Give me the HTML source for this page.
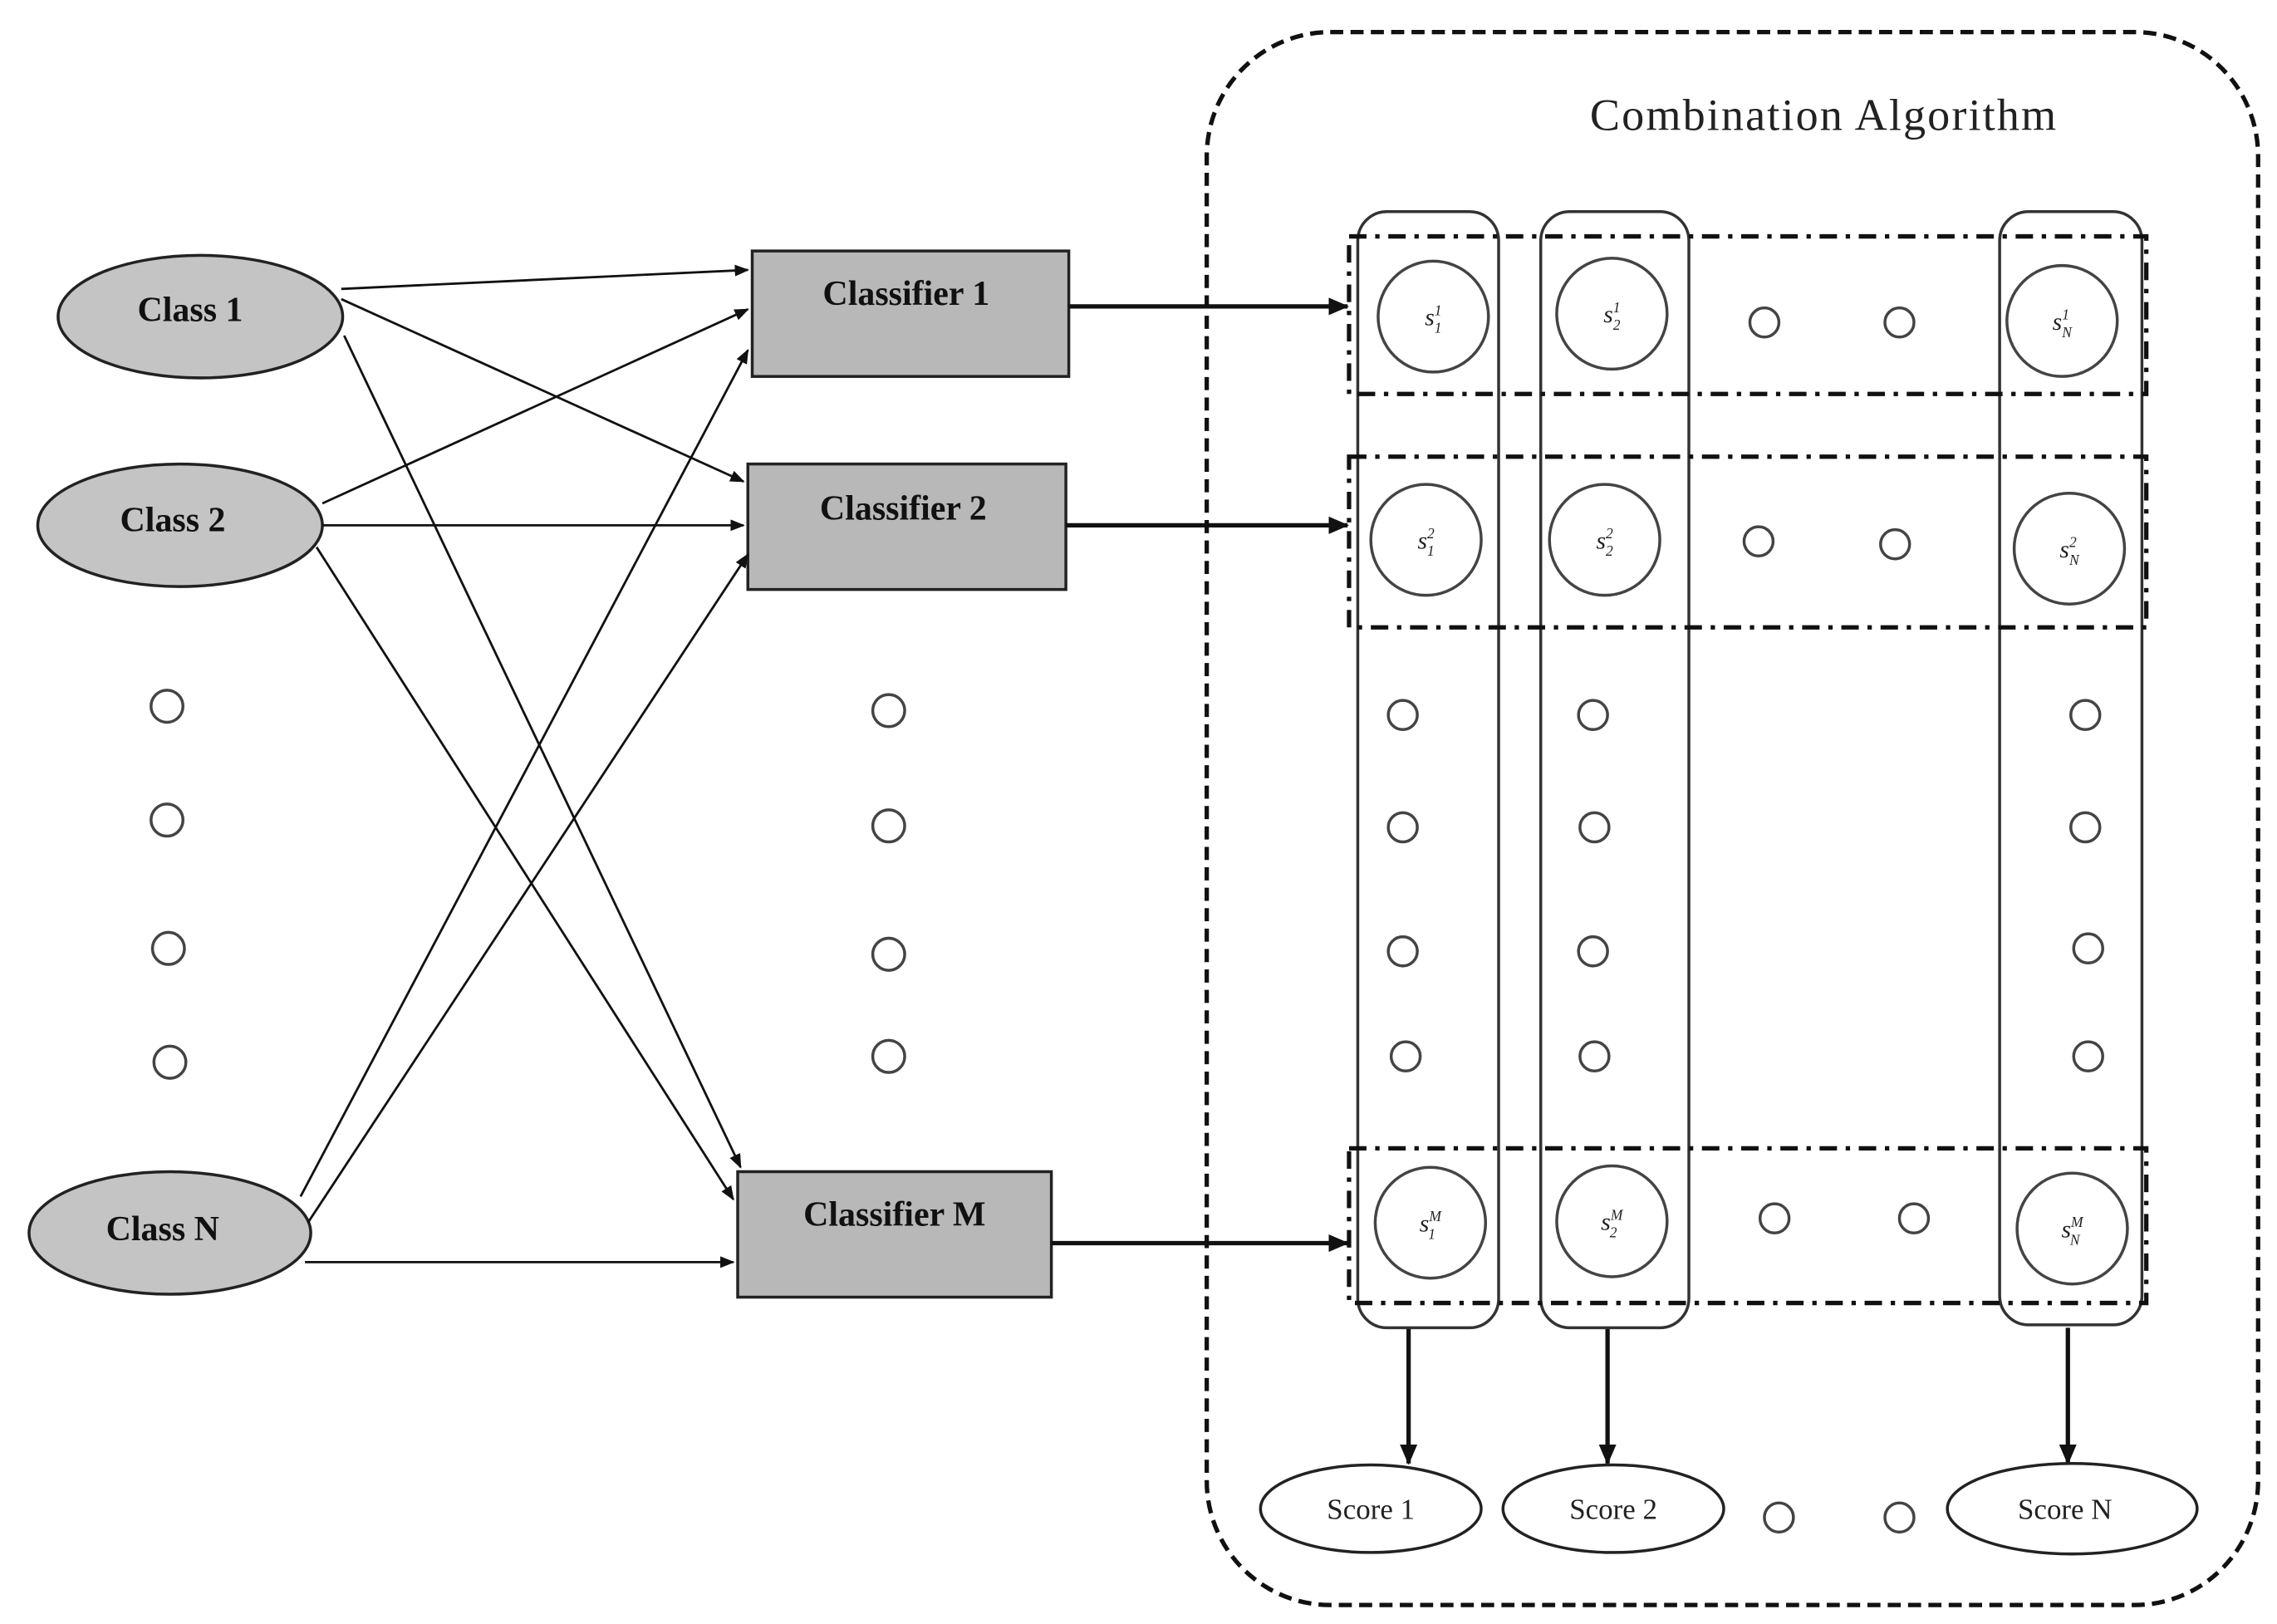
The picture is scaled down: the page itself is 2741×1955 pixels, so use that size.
<!DOCTYPE html>
<html><head><style>html,body{margin:0;padding:0;background:#fff}svg{display:block}</style></head>
<body>
<svg width="2741" height="1955" viewBox="0 0 1568 1113" preserveAspectRatio="none" xmlns="http://www.w3.org/2000/svg" font-family="Liberation Serif, serif">
<defs>
<marker id="a" markerWidth="10" markerHeight="8" refX="9" refY="4" orient="auto" markerUnits="userSpaceOnUse"><path d="M0,0 L10,4 L0,8 Z" fill="#111"/></marker>
<marker id="b" markerWidth="14" markerHeight="12" refX="13" refY="6" orient="auto" markerUnits="userSpaceOnUse"><path d="M0,0 L14,6 L0,12 Z" fill="#111"/></marker>
</defs>
<rect x="831" y="22" width="724" height="1078" rx="85" fill="none" stroke="#111" stroke-width="3" stroke-dasharray="9,5"/>
<text x="1256" y="89" font-size="31" letter-spacing="1.2" text-anchor="middle" fill="#222">Combination Algorithm</text>
<g stroke="#222" stroke-width="2" fill="#c4c4c4">
<ellipse cx="138" cy="217" rx="98" ry="42"/>
<ellipse cx="124" cy="360" rx="98" ry="42"/>
<ellipse cx="117" cy="845" rx="97" ry="42"/>
</g>
<g font-weight="bold" font-size="24" text-anchor="middle" fill="#111">
<text x="131" y="220">Class 1</text>
<text x="119" y="364">Class 2</text>
<text x="112" y="850">Class N</text>
</g>
<g stroke="#222" stroke-width="2" fill="#b8b8b8">
<rect x="518" y="172" width="218" height="86"/>
<rect x="515" y="318" width="219" height="86"/>
<rect x="508" y="803" width="216" height="86"/>
</g>
<g font-weight="bold" font-size="24" text-anchor="middle" fill="#111">
<text x="624" y="209">Classifier 1</text>
<text x="622" y="356">Classifier 2</text>
<text x="616" y="840">Classifier M</text>
</g>
<g stroke="#111" stroke-width="1.6" fill="none" marker-end="url(#a)">
<line x1="235" y1="198" x2="515" y2="185"/>
<line x1="235" y1="205" x2="512" y2="330"/>
<line x1="237" y1="230" x2="510" y2="800"/>
<line x1="222" y1="345" x2="515" y2="212"/>
<line x1="222" y1="360" x2="512" y2="360"/>
<line x1="218" y1="375" x2="505" y2="822"/>
<line x1="207" y1="820" x2="515" y2="240"/>
<line x1="212" y1="838" x2="515" y2="380"/>
<line x1="210" y1="865" x2="505" y2="865"/>
</g>
<g stroke="#111" stroke-width="3" marker-end="url(#b)">
<line x1="736" y1="210" x2="928" y2="210"/>
<line x1="734" y1="360" x2="928" y2="360"/>
<line x1="724" y1="852" x2="928" y2="852"/>
<line x1="970" y1="910" x2="970" y2="1003"/>
<line x1="1107" y1="910" x2="1107" y2="1003"/>
<line x1="1424" y1="910" x2="1424" y2="1003"/>
</g>
<g fill="none" stroke="#333" stroke-width="2">
<rect x="935" y="145" width="97" height="765" rx="20"/>
<rect x="1061" y="145" width="102" height="765" rx="20"/>
<rect x="1377" y="145" width="98" height="763" rx="20"/>
</g>
<g fill="none" stroke="#111" stroke-width="3" stroke-dasharray="12,6,3,6">
<rect x="929" y="162" width="549" height="108"/>
<rect x="929" y="313" width="549" height="117"/>
<rect x="929" y="787" width="549" height="106"/>
</g>
<g fill="#fff" stroke="#444" stroke-width="2">
<circle cx="987" cy="217" r="38"/><circle cx="1110" cy="215" r="38"/><circle cx="1420" cy="220" r="38"/>
<circle cx="982" cy="370" r="38"/><circle cx="1105" cy="370" r="38"/><circle cx="1425" cy="376" r="38"/>
<circle cx="985" cy="838" r="38"/><circle cx="1110" cy="837" r="38"/><circle cx="1427" cy="842" r="38"/>
</g>
<g font-style="italic" font-size="17" fill="#222" text-anchor="middle">
<text x="987" y="223">s<tspan font-size="10" dy="-7">1</tspan><tspan font-size="10" dx="-5" dy="12">1</tspan></text>
<text x="1110" y="221">s<tspan font-size="10" dy="-7">1</tspan><tspan font-size="10" dx="-5" dy="12">2</tspan></text>
<text x="1420" y="226">s<tspan font-size="10" dy="-7">1</tspan><tspan font-size="10" dx="-5" dy="12">N</tspan></text>
<text x="982" y="376">s<tspan font-size="10" dy="-7">2</tspan><tspan font-size="10" dx="-5" dy="12">1</tspan></text>
<text x="1105" y="376">s<tspan font-size="10" dy="-7">2</tspan><tspan font-size="10" dx="-5" dy="12">2</tspan></text>
<text x="1425" y="382">s<tspan font-size="10" dy="-7">2</tspan><tspan font-size="10" dx="-5" dy="12">N</tspan></text>
<text x="985" y="844">s<tspan font-size="10" dy="-7">M</tspan><tspan font-size="10" dx="-9" dy="12">1</tspan></text>
<text x="1110" y="843">s<tspan font-size="10" dy="-7">M</tspan><tspan font-size="10" dx="-9" dy="12">2</tspan></text>
<text x="1427" y="848">s<tspan font-size="10" dy="-7">M</tspan><tspan font-size="10" dx="-9" dy="12">N</tspan></text>
</g>
<g fill="#fff" stroke="#444" stroke-width="2">
<circle cx="115" cy="484" r="11"/><circle cx="115" cy="562" r="11"/><circle cx="116" cy="650" r="11"/><circle cx="117" cy="728" r="11"/>
<circle cx="612" cy="487" r="11"/><circle cx="612" cy="566" r="11"/><circle cx="612" cy="654" r="11"/><circle cx="612" cy="724" r="11"/>
<circle cx="1215" cy="221" r="10"/><circle cx="1308" cy="221" r="10"/>
<circle cx="1211" cy="371" r="10"/><circle cx="1305" cy="373" r="10"/>
<circle cx="1222" cy="835" r="10"/><circle cx="1318" cy="835" r="10"/>
<circle cx="966" cy="490" r="10"/><circle cx="966" cy="567" r="10"/><circle cx="966" cy="652" r="10"/><circle cx="968" cy="724" r="10"/>
<circle cx="1097" cy="490" r="10"/><circle cx="1098" cy="567" r="10"/><circle cx="1097" cy="652" r="10"/><circle cx="1098" cy="724" r="10"/>
<circle cx="1436" cy="490" r="10"/><circle cx="1436" cy="567" r="10"/><circle cx="1438" cy="650" r="10"/><circle cx="1438" cy="724" r="10"/>
<circle cx="1225" cy="1040" r="10"/><circle cx="1308" cy="1040" r="10"/>
</g>
<g fill="#fff" stroke="#222" stroke-width="2">
<ellipse cx="944" cy="1034" rx="76" ry="30"/>
<ellipse cx="1111" cy="1034" rx="76" ry="30"/>
<ellipse cx="1427" cy="1034" rx="86" ry="31"/>
</g>
<g font-size="20" text-anchor="middle" fill="#222">
<text x="944" y="1041">Score 1</text>
<text x="1111" y="1041">Score 2</text>
<text x="1422" y="1041">Score N</text>
</g>
</svg>
</body></html>
